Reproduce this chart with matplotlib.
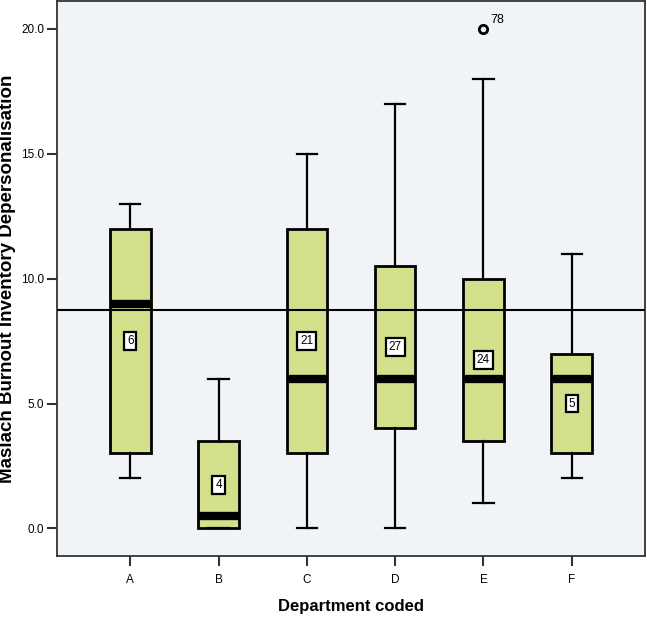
import matplotlib

matplotlib.use("Agg")

import matplotlib.pyplot as plt

departments = ["A", "B", "C", "D", "E", "F"]
whisker_low = [2, 0, 0, 0, 1, 2]
q1 = [3, 0, 3, 4, 3.5, 3]
median = [9, 0.5, 6, 6, 6, 6]
q3 = [12, 3.5, 12, 10.5, 10, 7]
whisker_high = [13, 6, 15, 17, 18, 11]
counts = [6, 4, 21, 27, 24, 5]
outliers = [[], [], [], [], [20], []]
outlier_ids = [[], [], [], [], ["78"], []]
overall_mean = 8.73

box_color = "#d3df8b"
bg_color = "#f1f4f6"
font = ["Liberation Sans", "DejaVu Sans"]

stats = []
for i, name in enumerate(departments):
    stats.append({
        "label": name,
        "whislo": whisker_low[i],
        "q1": q1[i],
        "med": median[i],
        "q3": q3[i],
        "whishi": whisker_high[i],
        "fliers": outliers[i],
    })

fig = plt.figure(figsize=(6.47, 6.17), dpi=100)
ax = fig.add_axes([0.088, 0.099, 0.909, 0.899])
ax.set_facecolor(bg_color)

positions = list(range(len(departments)))
ax.bxp(
    stats,
    positions=positions,
    widths=0.46,
    patch_artist=True,
    boxprops=dict(facecolor=box_color, edgecolor="black", linewidth=2),
    medianprops=dict(color="black", linewidth=6, solid_capstyle="butt"),
    whiskerprops=dict(color="black", linewidth=1.6),
    capprops=dict(color="black", linewidth=1.6),
    capwidths=0.23,
    flierprops=dict(marker="o", markersize=6, markerfacecolor="none",
                    markeredgecolor="black", markeredgewidth=2),
    zorder=3,
)

ax.axhline(overall_mean, color="black", linewidth=1.5, zorder=4)

for i, n in enumerate(counts):
    mid = (q1[i] + q3[i]) / 2
    ax.text(positions[i], mid, str(n), ha="center", va="center", fontsize=8.5,
            family=font, zorder=5,
            bbox=dict(boxstyle="square,pad=0.25", facecolor="white",
                      edgecolor="black", linewidth=1.6))
    for val, lab in zip(outliers[i], outlier_ids[i]):
        ax.annotate(lab, (positions[i], val), xytext=(5, 4),
                    textcoords="offset points", fontsize=9, family=font)

ax.set_xlim(-0.83, 5.83)
ax.set_ylim(-1.1, 21.1)
ax.set_yticks([0, 5, 10, 15, 20])
ax.set_yticklabels(["0.0", "5.0", "10.0", "15.0", "20.0"], family=font, fontsize=8.5)
ax.set_xticks(positions)
ax.set_xticklabels(departments, family=font, fontsize=8.5)
ax.tick_params(axis="both", direction="out", length=7, width=1.5, color="#333333")
ax.tick_params(axis="x", pad=6)
ax.tick_params(axis="y", pad=2)

for spine in ax.spines.values():
    spine.set_linewidth(1.3)
    spine.set_color("#333333")

ax.set_ylabel("Maslach Burnout Inventory Depersonalisation", fontsize=13.5,
              fontweight="bold", family=font, va="center")
ax.yaxis.set_label_coords(-0.084, 0.5)
ax.set_xlabel("Department coded", fontsize=12, fontweight="bold",
              family=font, va="center")
ax.xaxis.set_label_coords(0.5, -0.092)

fig.savefig("out.png", dpi=100)
